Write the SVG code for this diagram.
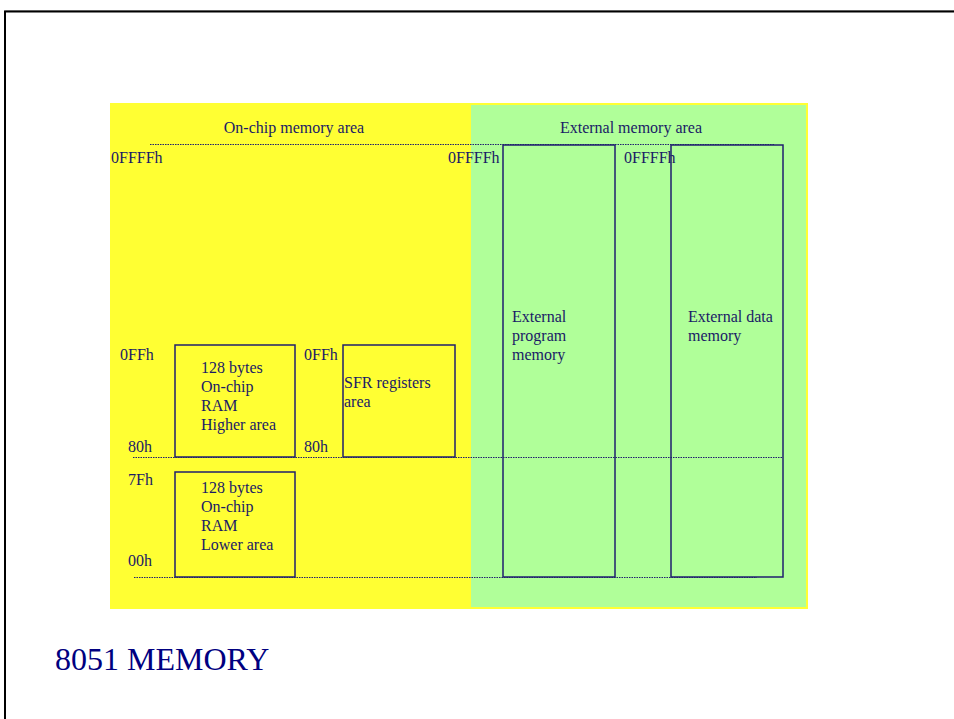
<svg xmlns="http://www.w3.org/2000/svg" width="954" height="719" viewBox="0 0 954 719">
<style>
text{font-family:"Liberation Serif","Times New Roman",serif;font-size:16px;fill:#1a1a66}
.box{fill:none;stroke:#1f1f6e;stroke-width:1.5}
.dot{stroke:#1f1f6e;stroke-width:1;stroke-dasharray:1.5 1;fill:none}
</style>
<rect x="0" y="0" width="954" height="719" fill="#fff"/>
<rect x="5" y="10.5" width="960" height="720" fill="none" stroke="#bbb" stroke-width="1"/>
<rect x="5" y="11.5" width="960" height="720" fill="none" stroke="#000" stroke-width="2"/>
<g id="background">
<rect x="110" y="103" width="698" height="506" fill="#ffff33"/>
<rect x="471" y="105" width="335" height="502" fill="#b0ff99"/>
</g>
<g id="connectors">
<line class="dot" x1="150" y1="144.5" x2="774" y2="144.5"/>
<line class="dot" x1="133" y1="457.5" x2="783" y2="457.5"/>
<line class="dot" x1="134" y1="577.5" x2="757" y2="577.5"/>
</g>
<g id="headers">
<text x="294" y="133" text-anchor="middle">On-chip memory area</text>
<text x="631" y="133" text-anchor="middle">External memory area</text>
</g>
<g id="addresses">
<text x="111" y="163">0FFFFh</text>
<text x="448" y="163">0FFFFh</text>
<text x="624" y="163">0FFFFh</text>
<text x="120" y="360">0FFh</text>
<text x="128" y="452">80h</text>
<text x="304" y="360">0FFh</text>
<text x="304" y="452">80h</text>
<text x="128" y="485">7Fh</text>
<text x="128" y="566">00h</text>
</g>
<g id="ram-higher">
<rect class="box" x="175" y="345" width="120" height="112"/>
<text x="201" y="373">128 bytes</text>
<text x="201" y="392">On-chip</text>
<text x="201" y="411">RAM</text>
<text x="201" y="430">Higher area</text>
</g>
<g id="sfr">
<rect class="box" x="343" y="345" width="112" height="112"/>
<text x="344" y="388">SFR registers</text>
<text x="344" y="407">area</text>
</g>
<g id="ram-lower">
<rect class="box" x="175" y="472" width="120" height="105"/>
<text x="201" y="493">128 bytes</text>
<text x="201" y="512">On-chip</text>
<text x="201" y="531">RAM</text>
<text x="201" y="550">Lower area</text>
</g>
<g id="ext-program">
<rect class="box" x="503" y="145" width="112" height="432"/>
<text x="512" y="322">External</text>
<text x="512" y="341">program</text>
<text x="512" y="360">memory</text>
</g>
<g id="ext-data">
<rect class="box" x="671" y="145" width="112" height="432"/>
<text x="688" y="322">External data</text>
<text x="688" y="341">memory</text>
</g>
<text x="55" y="670" style="font-size:32px;fill:#000080">8051 MEMORY</text>
</svg>
